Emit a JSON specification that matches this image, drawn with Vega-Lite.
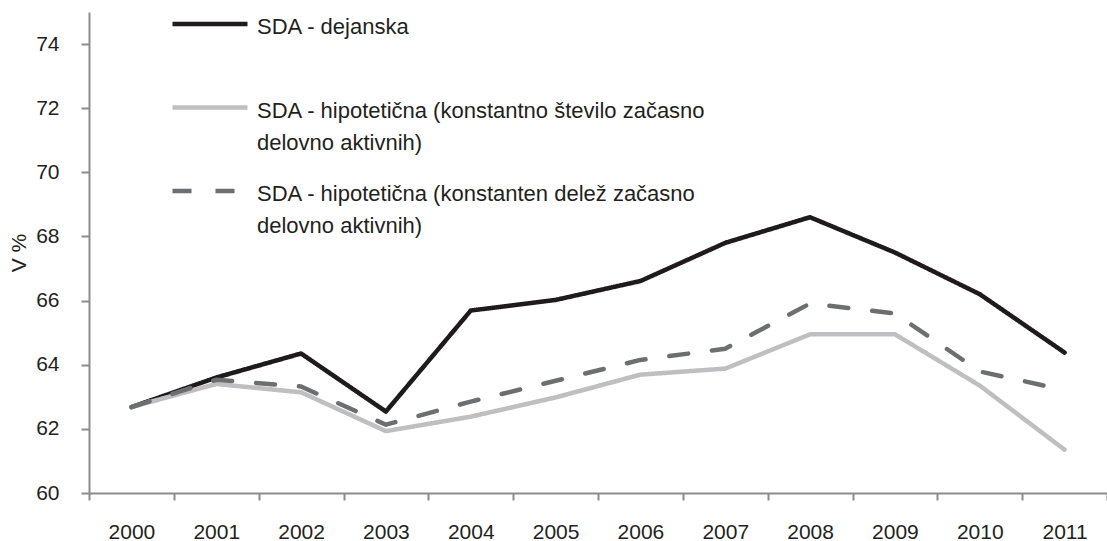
{
  "$schema": "https://vega.github.io/schema/vega-lite/v6.json",
  "width": 1018,
  "height": 481,
  "autosize": {"type": "none"},
  "padding": {"left": 89, "top": 12, "right": 0, "bottom": 48},
  "background": "white",
  "config": {
    "font": "Liberation Sans",
    "view": {"stroke": null},
    "style": {"guide-label": {"lineHeight": 32}}
  },
  "data": {
    "values": [
      {"year": "2000", "series": "SDA - dejanska", "value": 62.68},
      {"year": "2001", "series": "SDA - dejanska", "value": 63.6},
      {"year": "2002", "series": "SDA - dejanska", "value": 64.35},
      {"year": "2003", "series": "SDA - dejanska", "value": 62.54},
      {"year": "2004", "series": "SDA - dejanska", "value": 65.69},
      {"year": "2005", "series": "SDA - dejanska", "value": 66.02},
      {"year": "2006", "series": "SDA - dejanska", "value": 66.61},
      {"year": "2007", "series": "SDA - dejanska", "value": 67.8},
      {"year": "2008", "series": "SDA - dejanska", "value": 68.6},
      {"year": "2009", "series": "SDA - dejanska", "value": 67.5},
      {"year": "2010", "series": "SDA - dejanska", "value": 66.2},
      {"year": "2011", "series": "SDA - dejanska", "value": 64.38},
      {"year": "2000", "series": "SDA - hipotetična (konstantno število začasno delovno aktivnih)", "value": 62.68},
      {"year": "2001", "series": "SDA - hipotetična (konstantno število začasno delovno aktivnih)", "value": 63.4},
      {"year": "2002", "series": "SDA - hipotetična (konstantno število začasno delovno aktivnih)", "value": 63.14},
      {"year": "2003", "series": "SDA - hipotetična (konstantno število začasno delovno aktivnih)", "value": 61.93},
      {"year": "2004", "series": "SDA - hipotetična (konstantno število začasno delovno aktivnih)", "value": 62.38},
      {"year": "2005", "series": "SDA - hipotetična (konstantno število začasno delovno aktivnih)", "value": 62.98},
      {"year": "2006", "series": "SDA - hipotetična (konstantno število začasno delovno aktivnih)", "value": 63.69},
      {"year": "2007", "series": "SDA - hipotetična (konstantno število začasno delovno aktivnih)", "value": 63.88},
      {"year": "2008", "series": "SDA - hipotetična (konstantno število začasno delovno aktivnih)", "value": 64.95},
      {"year": "2009", "series": "SDA - hipotetična (konstantno število začasno delovno aktivnih)", "value": 64.95},
      {"year": "2010", "series": "SDA - hipotetična (konstantno število začasno delovno aktivnih)", "value": 63.35},
      {"year": "2011", "series": "SDA - hipotetična (konstantno število začasno delovno aktivnih)", "value": 61.35},
      {"year": "2000", "series": "SDA - hipotetična (konstanten delež začasno delovno aktivnih)", "value": 62.68},
      {"year": "2001", "series": "SDA - hipotetična (konstanten delež začasno delovno aktivnih)", "value": 63.53},
      {"year": "2002", "series": "SDA - hipotetična (konstanten delež začasno delovno aktivnih)", "value": 63.32},
      {"year": "2003", "series": "SDA - hipotetična (konstanten delež začasno delovno aktivnih)", "value": 62.13},
      {"year": "2004", "series": "SDA - hipotetična (konstanten delež začasno delovno aktivnih)", "value": 62.85},
      {"year": "2005", "series": "SDA - hipotetična (konstanten delež začasno delovno aktivnih)", "value": 63.5},
      {"year": "2006", "series": "SDA - hipotetična (konstanten delež začasno delovno aktivnih)", "value": 64.15},
      {"year": "2007", "series": "SDA - hipotetična (konstanten delež začasno delovno aktivnih)", "value": 64.5},
      {"year": "2008", "series": "SDA - hipotetična (konstanten delež začasno delovno aktivnih)", "value": 65.91},
      {"year": "2009", "series": "SDA - hipotetična (konstanten delež začasno delovno aktivnih)", "value": 65.6},
      {"year": "2010", "series": "SDA - hipotetična (konstanten delež začasno delovno aktivnih)", "value": 63.79},
      {"year": "2011", "series": "SDA - hipotetična (konstanten delež začasno delovno aktivnih)", "value": 63.21}
    ]
  },
  "mark": {"type": "line", "strokeWidth": 4.5, "strokeCap": "round", "strokeJoin": "round"},
  "encoding": {
    "x": {
      "field": "year",
      "type": "ordinal",
      "scale": {"type": "band", "paddingInner": 0, "paddingOuter": 0},
      "bandPosition": 0.5,
      "axis": {
        "title": null,
        "labelAngle": 0,
        "tickBand": "extent",
        "labelFontSize": 21,
        "labelColor": "#231f20",
        "labelPadding": 21,
        "domainColor": "#8c8c8e",
        "domainWidth": 2,
        "tickColor": "#8c8c8e",
        "tickWidth": 2,
        "tickSize": 7,
        "grid": false
      }
    },
    "y": {
      "field": "value",
      "type": "quantitative",
      "scale": {"domain": [60, 75], "nice": false, "zero": false},
      "axis": {
        "title": "V %",
        "titleFontSize": 21,
        "titleFontWeight": "normal",
        "titleColor": "#231f20",
        "titlePadding": 6,
        "values": [60, 62, 64, 66, 68, 70, 72, 74],
        "labelFontSize": 21,
        "labelColor": "#231f20",
        "labelPadding": 22,
        "domainColor": "#8c8c8e",
        "domainWidth": 2,
        "tickColor": "#8c8c8e",
        "tickWidth": 2,
        "tickSize": 8,
        "grid": false
      }
    },
    "color": {
      "field": "series",
      "type": "nominal",
      "sort": null,
      "scale": {
        "domain": ["SDA - dejanska", "SDA - hipotetična (konstantno število začasno delovno aktivnih)", "SDA - hipotetična (konstanten delež začasno delovno aktivnih)"],
        "range": ["#1f1b1c", "#bfbfc1", "#6d6e70"]
      },
      "legend": {
        "title": null,
        "orient": "none",
        "legendX": 81,
        "legendY": -25,
        "padding": 0,
        "symbolType": "M-1,-0.08H1",
        "symbolSize": 5625,
        "symbolStrokeWidth": 4.5,
        "symbolFillColor": "transparent",
        "labelFontSize": 22,
        "labelColor": "#231f20",
        "labelOffset": 7,
        "labelLimit": 1000,
        "gridAlign": "all",
        "rowPadding": 0.5,
        "labelExpr": "split(replace(datum.label, ' delovno', '|delovno'), '|')"
      }
    },
    "strokeDash": {
      "field": "series",
      "type": "nominal",
      "sort": null,
      "scale": {
        "domain": ["SDA - dejanska", "SDA - hipotetična (konstantno število začasno delovno aktivnih)", "SDA - hipotetična (konstanten delež začasno delovno aktivnih)"],
        "range": [[1, 0], [1, 0], [19, 24]]
      },
      "legend": null
    }
  }
}
